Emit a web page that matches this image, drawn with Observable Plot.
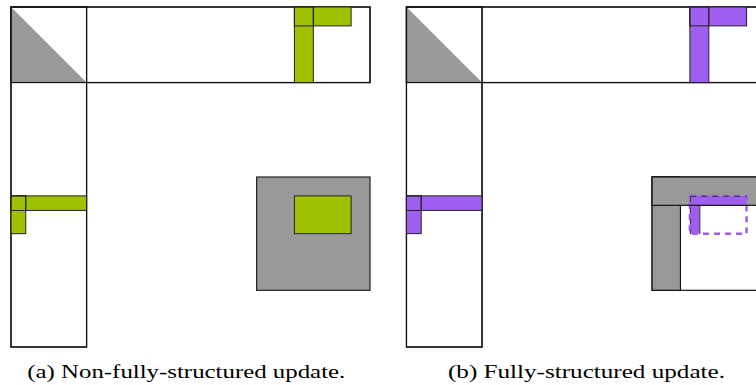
<!DOCTYPE html>
<html>
<head>
<meta charset="utf-8">
<script src="https://cdn.jsdelivr.net/npm/d3@7"></script>
<script src="https://cdn.jsdelivr.net/npm/@observablehq/plot@0.6"></script>
<style>
  html, body { margin: 0; padding: 0; background: #fff; overflow: hidden; }
  #chart svg { display: block; overflow: hidden; }
</style>
</head>
<body>
<div id="chart"></div>
<script>
// Two panels side by side; geometry is in grid units (one unit = one matrix row/column)
const panelNames = ["a", "b"];
const panelShift = [0, 20.93];
const captions = ["(a) Non-fully-structured update.", "(b) Fully-structured update."];
const captionCenter = [9.25, 9.5];

// Outlined bands of the factor: top block row and left block column [x1, x2, y1, y2]
const bands = [[0, 19, 0, 4], [0, 4, 0, 18]];
// Lower-triangular diagonal block: x, top edge, bottom edge
const diagonal = [[0, 0, 4], [4, 4, 4]];

// Updated strips in the top band and the left band
const topStrips = [[15, 18, 0, 1], [15, 16, 0, 4]];
const topCorner = [[15, 16, 0, 1]];
const leftStrips = [[0, 4, 10, 10.77], [0, 0.78, 10, 12]];
const leftCorner = [[0, 0.78, 10, 10.77]];

// Panel (a): dense trailing block and the sub-block it updates
const trailingA = [[13, 19, 9, 15]];
const updateA = [[15, 18, 10, 12]];

// Panel (b): trailing block with structured column / row strips
const trailingB = [[13, 19, 9, 15]];
const stripColB = [[13, 14.5, 9, 15]];
const stripRowB = [[13, 19, 9, 10.5]];
const updateRowB = [[15, 18, 10, 10.5]];
const updateColB = [[15, 15.5, 10, 12]];
const targetB = [[15, 18, 10, 12]];

const GREEN = "#9fc200";
const PURPLE = "#a05ef0";
const GRAY = "#999999";
const INK = "#111";
const ACCENT = [GREEN, PURPLE];

// Shift a list of [x1, x2, y1, y2] boxes into a panel
const boxes = (list, p) => list.map(([x1, x2, y1, y2]) => ({
  x1: x1 + panelShift[p], x2: x2 + panelShift[p], y1, y2
}));
const rect = (list, p, opts) => Plot.rect(boxes(list, p), {
  x1: "x1", x2: "x2", y1: "y1", y2: "y2", clip: true, ...opts
});
const edge = (segs, p, opts) => Plot.link(
  segs.map(([x1, y1, x2, y2]) => ({x1: x1 + panelShift[p], y1, x2: x2 + panelShift[p], y2})),
  {x1: "x1", y1: "y1", x2: "x2", y2: "y2", clip: true, ...opts}
);

const marks = [];
panelNames.forEach((name, p) => {
  const accent = ACCENT[p];
  // band outlines and the diagonal block
  marks.push(rect(bands, p, {fill: "white", stroke: INK, strokeWidth: 1.2}));
  marks.push(Plot.area(diagonal.map(([x, top, bottom]) => ({x: x + panelShift[p], top, bottom})),
    {x1: "x", y1: "top", y2: "bottom", fill: GRAY, clip: true}));
  marks.push(rect(bands, p, {fill: "none", stroke: INK, strokeWidth: 1.2}));

  // updated strips in the bands
  marks.push(rect(topStrips, p, {fill: accent, stroke: "#222", strokeWidth: 1}));
  marks.push(rect(topCorner, p, {fill: "none", stroke: "#222", strokeWidth: 1}));
  marks.push(rect(leftStrips, p, {fill: accent, stroke: "#222", strokeWidth: 1}));
  marks.push(rect(leftCorner, p, {fill: "none", stroke: "#222", strokeWidth: 1}));

  if (name === "a") {
    marks.push(rect(trailingA, p, {fill: GRAY, stroke: "#222", strokeWidth: 1.2}));
    marks.push(rect(updateA, p, {fill: accent, stroke: "#222", strokeWidth: 1}));
  } else {
    marks.push(rect(trailingB, p, {fill: "white", stroke: INK, strokeWidth: 1.2}));
    marks.push(rect(stripColB, p, {fill: GRAY, stroke: INK, strokeWidth: 1.2}));
    marks.push(rect(stripRowB, p, {fill: GRAY}));
    marks.push(rect(updateRowB, p, {fill: accent}));
    marks.push(rect(updateColB, p, {fill: accent}));
    marks.push(rect(targetB, p, {fill: "none", stroke: accent, strokeWidth: 2.5, strokeDasharray: "6,5"}));
    const t = targetB[0];
    marks.push(edge([[t[0], t[2], t[1], t[2]], [t[0], t[2], t[0], t[3]]], p,
      {stroke: "#333", strokeWidth: 1, strokeDasharray: "6,5"}));
    const c = updateColB[0];
    marks.push(edge([[c[1], stripRowB[0][3], c[1], c[3]]], p, {stroke: "#222", strokeWidth: 1}));
    marks.push(rect(stripRowB, p, {fill: "none", stroke: INK, strokeWidth: 1.2}));
  }
});

marks.push(Plot.text(captions.map((text, p) => ({text, x: captionCenter[p] + panelShift[p], y: 19.29})), {
  x: "x", y: "y", text: "text", fill: "black",
  fontSize: 19, fontFamily: "Liberation Serif"
}));

const chart = Plot.plot({
  width: 756,
  height: 385,
  marginTop: 0, marginRight: 0, marginBottom: 0, marginLeft: 0,
  x: {domain: [0, 19], range: [11, 370], axis: null},
  y: {domain: [0, 18], range: [7, 347], axis: null},
  style: {background: "white", overflow: "hidden"},
  marks
});

// Stretch caption lines to the typeset width
const captionWidth = [318, 277];
d3.select(chart).selectAll('g[aria-label="text"] text').each(function(_, i) {
  this.setAttribute("textLength", captionWidth[i]);
  this.setAttribute("lengthAdjust", "spacingAndGlyphs");
});

document.getElementById("chart").appendChild(chart);
</script>
</body>
</html>
